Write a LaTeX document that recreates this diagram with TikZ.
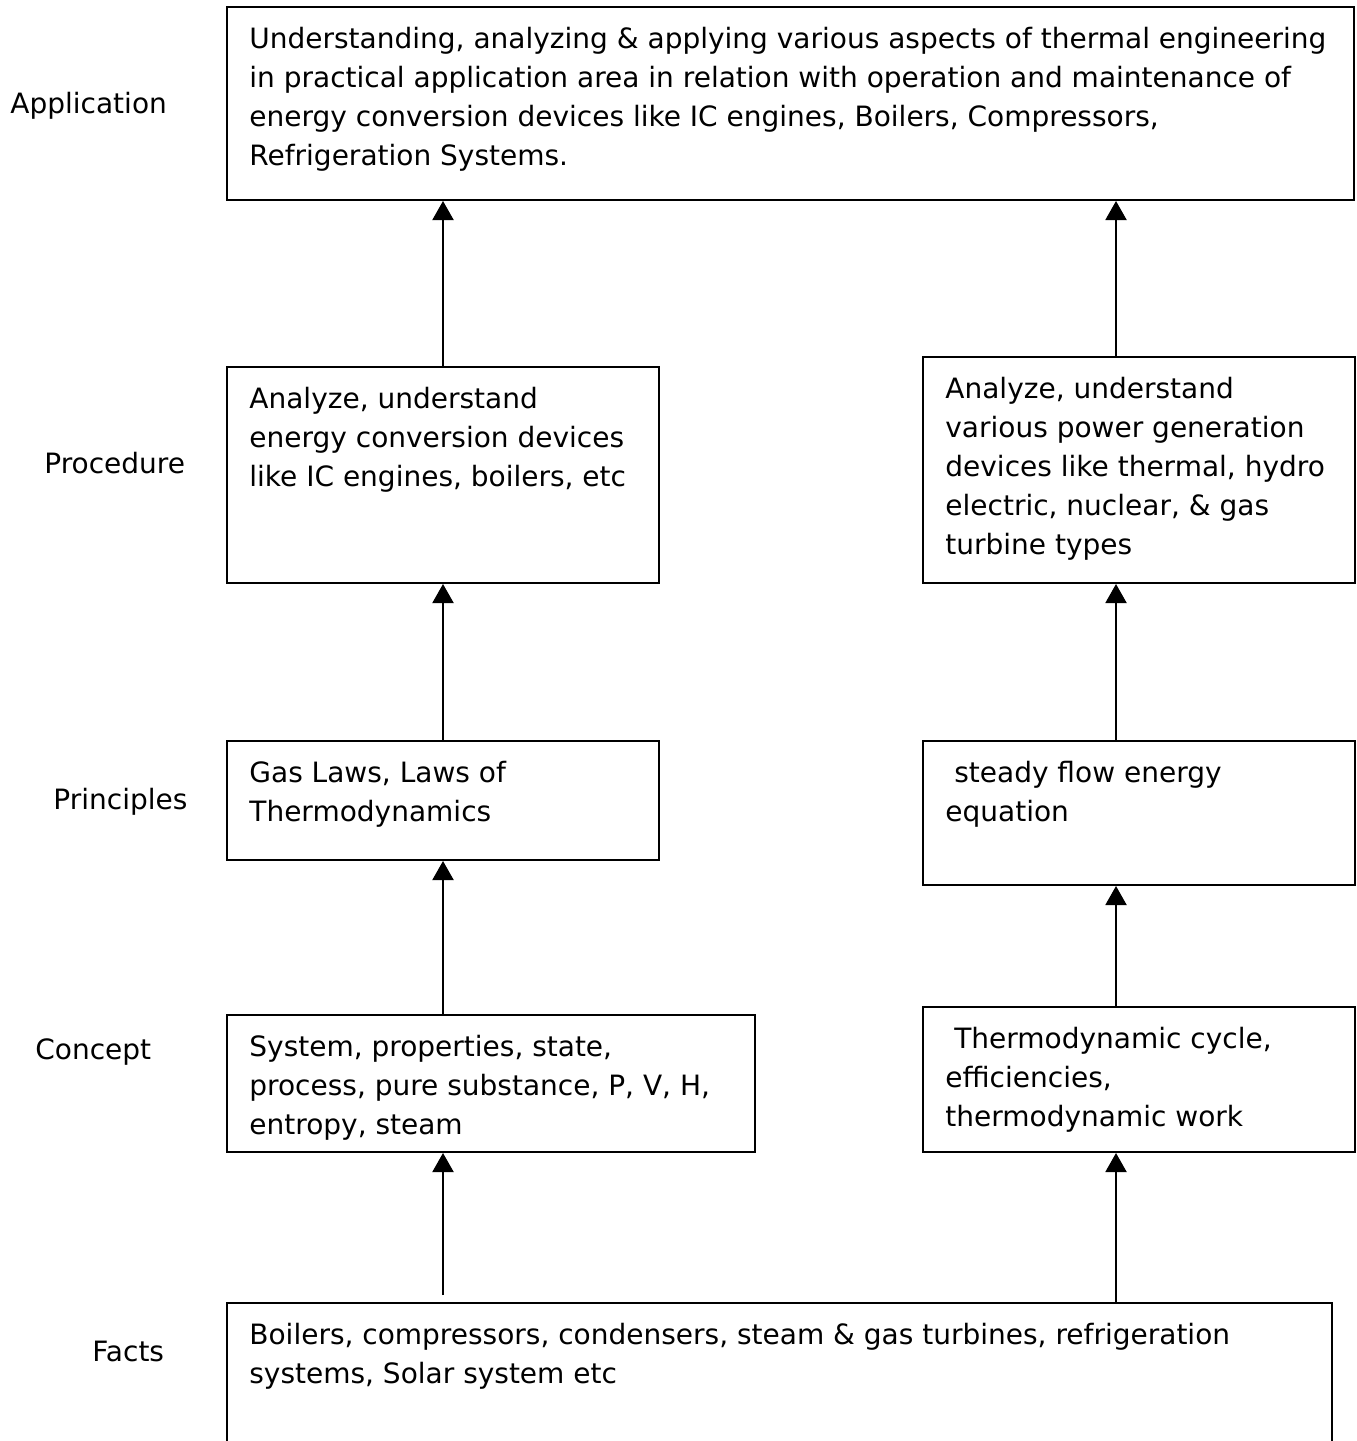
\documentclass[tikz,border=0pt]{standalone}
\usepackage{fontspec}
\setmainfont{DejaVu Sans}
\usetikzlibrary{arrows.meta, fit}

\begin{document}
\begin{tikzpicture}[
    x=0.5pt, y=-0.5pt,
    box/.style = {draw, line width=1pt, inner sep=0pt},
    txt/.style = {anchor=north west, align=left, inner sep=0pt,
                  font=\fontsize{14pt}{19.5pt}\selectfont,
                  execute at begin node=\rule{0pt}{11pt}},
    lvl/.style = {anchor=base west, inner sep=0pt,
                  font=\fontsize{14pt}{19.5pt}\selectfont},
    arr/.style = {-{Triangle[length=9.5pt,width=10.5pt]}, line width=1pt}
]
\useasboundingbox (0,0) rectangle (1356,1441);
\clip (0,0) rectangle (1356,1441);

%% ---- level names (left margin) ----
\node[lvl] (lvApp)  at (10,113)  {Application};
\node[lvl] (lvProc) at (44,473)  {Procedure};
\node[lvl] (lvPrin) at (53,809)  {Principles};
\node[lvl] (lvConc) at (35,1059) {Concept};
\node[lvl] (lvFact) at (92,1361) {Facts};

%% ---- boxes ----
\node[box, fit={(227,7)(1354,200)}]     (app)   {};
\node[box, fit={(227,367)(659,583)}]    (procL) {};
\node[box, fit={(923,357)(1355,583)}]   (procR) {};
\node[box, fit={(227,741)(659,860)}]    (prinL) {};
\node[box, fit={(923,741)(1355,885)}]   (prinR) {};
\node[box, fit={(227,1015)(755,1152)}]  (concL) {};
\node[box, fit={(923,1007)(1355,1152)}] (concR) {};
\node[box, fit={(227,1303)(1332,1470)}] (facts) {};

%% ---- box texts ----
\node[txt] (appT) at ([shift={(23,21)}]app.north west)
    {Understanding, analyzing \& applying various aspects of thermal engineering\\
     in practical application area in relation with operation and maintenance of\\
     energy conversion devices like IC engines, Boilers, Compressors,\\
     Refrigeration Systems.};
\node[txt] (procLT) at ([shift={(23,21)}]procL.north west)
    {Analyze, understand\\energy conversion devices\\like IC engines, boilers, etc};
\node[txt] (procRT) at ([shift={(23,21)}]procR.north west)
    {Analyze, understand\\various power generation\\devices like thermal, hydro\\
     electric, nuclear, \& gas\\turbine types};
\node[txt] (prinLT) at ([shift={(23,21)}]prinL.north west)
    {Gas Laws, Laws of\\Thermodynamics};
\node[txt] (prinRT) at ([shift={(23,21)}]prinR.north west)
    {\ steady flow energy\\equation};
\node[txt] (concLT) at ([shift={(23,21)}]concL.north west)
    {System, properties, state,\\process, pure substance, P, V, H,\\entropy, steam};
\node[txt] (concRT) at ([shift={(23,21)}]concR.north west)
    {\ Thermodynamic cycle,\\efficiencies,\\thermodynamic work};
\node[txt] (factsT) at ([shift={(23,21)}]facts.north west)
    {Boilers, compressors, condensers, steam \& gas turbines, refrigeration\\
     systems, Solar system etc};

%% ---- arrows ----
\coordinate (colL)   at (443,0);
\coordinate (colR)   at (1116,0);
\coordinate (factsL) at (443,1295);

\draw[arr] (factsL) -- (concL.south -| colL);
\draw[arr] (concL.north -| colL) -- (prinL.south -| colL);
\draw[arr] (prinL.north -| colL) -- (procL.south -| colL);
\draw[arr] (procL.north -| colL) -- (app.south -| colL);

\draw[arr] (facts.north -| colR) -- (concR.south -| colR);
\draw[arr] (concR.north -| colR) -- (prinR.south -| colR);
\draw[arr] (prinR.north -| colR) -- (procR.south -| colR);
\draw[arr] (procR.north -| colR) -- (app.south -| colR);

\end{tikzpicture}
\end{document}
